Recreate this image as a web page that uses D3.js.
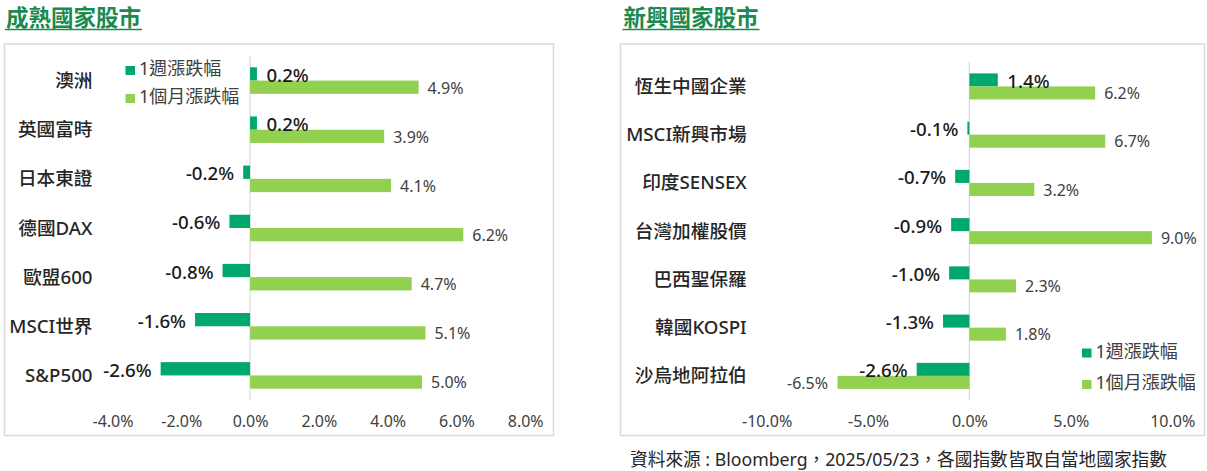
<!DOCTYPE html>
<html>
<head>
<meta charset="utf-8">
<script src="https://cdn.jsdelivr.net/npm/d3@7/dist/d3.min.js"></script>
<style>
  html, body { margin: 0; padding: 0; background: #fff; }
  svg { display: block; font-family: "Noto Sans", "Noto Sans CJK TC", sans-serif; }
</style>
</head>
<body>
<svg id="chart" width="1207" height="471"></svg>
<script>
// ---- Data ----
const devTitle = "成熟國家股市";
const devCategories = ["澳洲", "英國富時", "日本東證", "德國DAX", "歐盟600", "MSCI世界", "S&P500"];
const devWeek = [0.2, 0.2, -0.2, -0.6, -0.8, -1.6, -2.6];
const devMonth = [4.9, 3.9, 4.1, 6.2, 4.7, 5.1, 5.0];
const devTicks = [-4, -2, 0, 2, 4, 6, 8];

const emTitle = "新興國家股市";
const emCategories = ["恆生中國企業", "MSCI新興市場", "印度SENSEX", "台灣加權股價", "巴西聖保羅", "韓國KOSPI", "沙烏地阿拉伯"];
const emWeek = [1.4, -0.1, -0.7, -0.9, -1.0, -1.3, -2.6];
const emMonth = [6.2, 6.7, 3.2, 9.0, 2.3, 1.8, -6.5];
const emTicks = [-10, -5, 0, 5, 10];

const seriesNames = ["1週漲跌幅", "1個月漲跌幅"];
const footnote = "資料來源 : Bloomberg，2025/05/23，各國指數皆取自當地國家指數";

// ---- Styles ----
const WEEK_COLOR = "#00A86B";
const MONTH_COLOR = "#92D050";
const TITLE_COLOR = "#1B8A4E";
const BORDER = "#D9D9D9";
const TEXT_DARK = "#262626";
const TEXT_GRAY = "#404040";

const svg = d3.select("#chart");
const locale = d3.formatLocale({ decimal: ".", thousands: ",", grouping: [3], currency: ["", ""], minus: "-" });
const f1 = locale.format(".1f");
const fmt = v => f1(v) + "%";

function drawPanel(cfg) {
  const g = svg.append("g");
  // title
  const t = g.append("text")
    .attr("x", cfg.titleX).attr("y", 25.5)
    .attr("font-size", 22.5).attr("font-weight", 700)
    .attr("fill", TITLE_COLOR)
    .attr("font-family", "'Noto Sans CJK TC', sans-serif")
    .text(cfg.title);
  const tw = t.node().getComputedTextLength();
  g.append("line")
    .attr("x1", cfg.titleX - 1).attr("x2", cfg.titleX + tw + 1)
    .attr("y1", 29.5).attr("y2", 29.5)
    .attr("stroke", TITLE_COLOR).attr("stroke-width", 1.5);

  // box
  g.append("rect")
    .attr("x", cfg.box[0]).attr("y", cfg.box[1])
    .attr("width", cfg.box[2] - cfg.box[0]).attr("height", cfg.box[3] - cfg.box[1])
    .attr("fill", "none").attr("stroke", BORDER).attr("stroke-width", 1.5);

  const x = d3.scaleLinear().domain(cfg.domain).range(cfg.xRange);
  const y = d3.scaleBand().domain(cfg.categories).range(cfg.yRange).padding(0);
  const bh = y.bandwidth() * 0.27;

  // zero line
  g.append("line")
    .attr("x1", x(0)).attr("x2", x(0))
    .attr("y1", cfg.yRange[0]).attr("y2", cfg.yRange[1])
    .attr("stroke", BORDER).attr("stroke-width", 1.2);

  const rows = cfg.categories.map((c, i) => ({ c, w: cfg.week[i], m: cfg.month[i] }));
  const mid = d => y(d.c) + y.bandwidth() / 2;

  // week bars
  g.selectAll(".wb").data(rows).join("rect")
    .attr("x", d => x(Math.min(0, d.w)))
    .attr("width", d => Math.abs(x(d.w) - x(0)))
    .attr("y", d => mid(d) - bh)
    .attr("height", bh)
    .attr("fill", WEEK_COLOR);
  // month bars
  g.selectAll(".mb").data(rows).join("rect")
    .attr("x", d => x(Math.min(0, d.m)))
    .attr("width", d => Math.abs(x(d.m) - x(0)))
    .attr("y", d => mid(d))
    .attr("height", bh)
    .attr("fill", MONTH_COLOR);

  // week labels
  g.selectAll(".wl").data(rows).join("text")
    .attr("x", d => d.w >= 0 ? x(d.w) + 9.5 : x(d.w) - 9)
    .attr("y", d => mid(d) - bh / 2 + 1.5)
    .attr("dy", "0.35em")
    .attr("text-anchor", d => d.w >= 0 ? "start" : "end")
    .attr("font-size", 18.67).attr("font-weight", 500).attr("fill", "#1a1a1a")
    .text(d => fmt(d.w));
  // month labels
  g.selectAll(".ml").data(rows).join("text")
    .attr("x", d => d.m >= 0 ? x(d.m) + 9 : x(d.m) - 9.5)
    .attr("y", d => mid(d) + bh / 2 + 0.7)
    .attr("dy", "0.35em")
    .attr("text-anchor", d => d.m >= 0 ? "start" : "end")
    .attr("font-size", 16).attr("fill", TEXT_GRAY)
    .text(d => fmt(d.m));

  // category labels
  g.selectAll(".cl").data(rows).join("text")
    .attr("x", cfg.catX)
    .attr("y", d => mid(d))
    .attr("dy", "0.35em")
    .attr("text-anchor", "end")
    .attr("font-size", 18.67).attr("font-weight", 500).attr("fill", TEXT_DARK)
    .text(d => d.c);

  // x axis
  const ax = g.append("g")
    .attr("transform", `translate(0,${cfg.yRange[1]})`)
    .call(d3.axisBottom(x).tickValues(cfg.ticks).tickFormat(fmt).tickSize(0).tickPadding(16));
  ax.select(".domain").remove();
  ax.selectAll("text")
    .attr("font-size", 16).attr("fill", TEXT_GRAY)
    .attr("font-family", "'Noto Sans', sans-serif");

  // legend
  const lg = g.append("g");
  [WEEK_COLOR, MONTH_COLOR].forEach((col, i) => {
    const ly = cfg.legend[1] + i * cfg.legendGap;
    lg.append("rect").attr("x", cfg.legend[0]).attr("y", ly - 4.5)
      .attr("width", 9.5).attr("height", 9).attr("fill", col);
    lg.append("text").attr("x", cfg.legend[0] + 13.5).attr("y", ly - 1.5)
      .attr("dy", "0.35em").attr("font-size", 18).attr("fill", TEXT_GRAY)
      .text(seriesNames[i]);
  });
}

drawPanel({
  title: devTitle, titleX: 6,
  box: [4.5, 44, 553.5, 435.5],
  categories: devCategories, week: devWeek, month: devMonth, ticks: devTicks,
  domain: [-4, 8], xRange: [112.5, 525.2],
  yRange: [56, 400],
  catX: 92.5,
  legend: [125.5, 70.5], legendGap: 28
});

drawPanel({
  title: emTitle, titleX: 623.5,
  box: [620.5, 44, 1204.5, 435.5],
  categories: emCategories, week: emWeek, month: emMonth, ticks: emTicks,
  domain: [-10, 10], xRange: [766.6, 1172.2],
  yRange: [62.3, 400],
  catX: 746.7,
  legend: [1082, 353], legendGap: 31.5
});

svg.append("text")
  .attr("x", 630).attr("y", 460).attr("dy", "0.35em")
  .attr("font-size", 17.7).attr("fill", TEXT_DARK)
  .text(footnote);
</script>
</body>
</html>
